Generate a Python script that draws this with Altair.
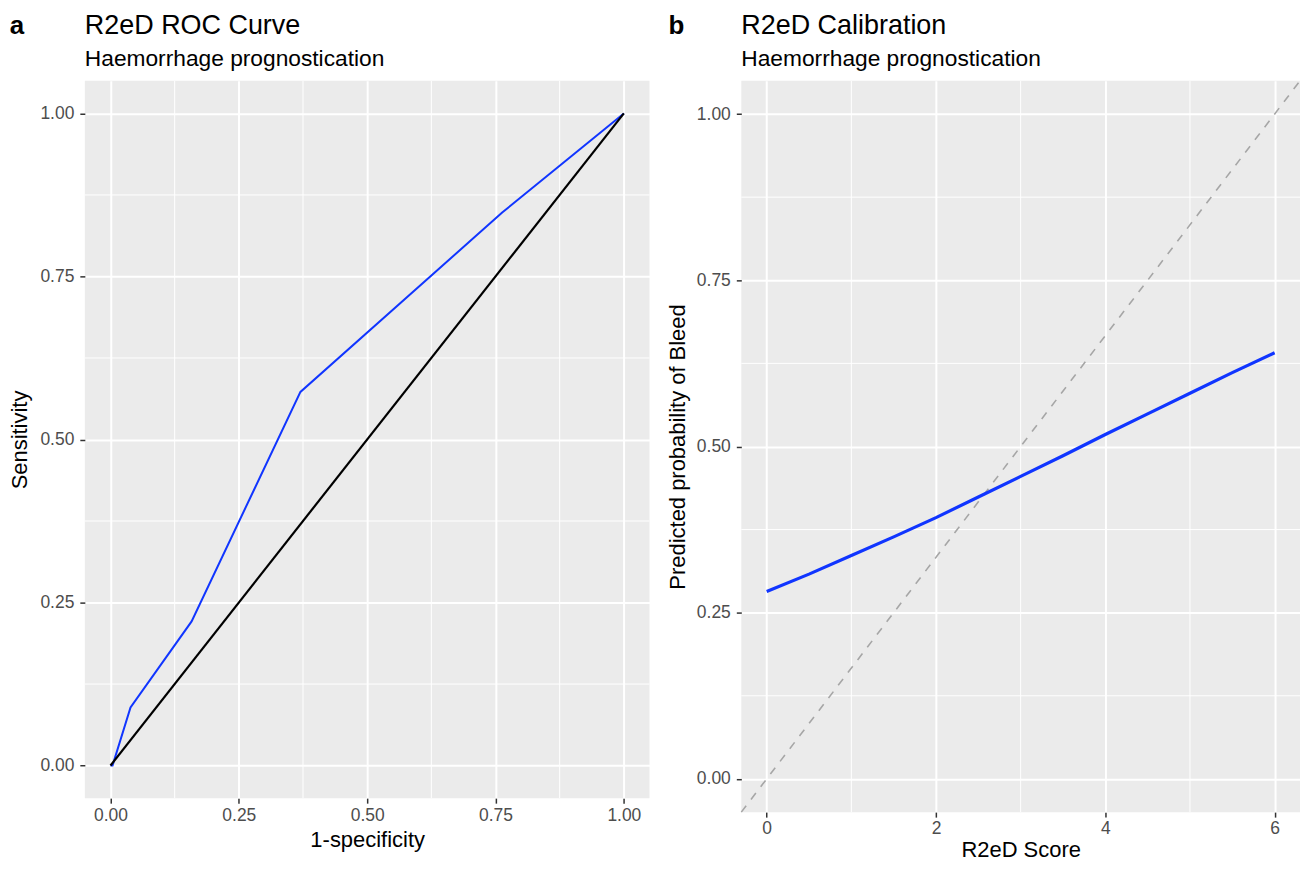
import altair as alt
import pandas as pd

# ---- data ----
roc_fpr = [0.0, 0.004, 0.039, 0.158, 0.370, 0.763, 1.0]
roc_tpr = [0.0, 0.0, 0.089, 0.221, 0.573, 0.848, 1.0]
diag_x = [0.0, 1.0]
diag_y = [0.0, 1.0]

cal_score = [0, 0.5, 1, 1.5, 2, 2.5, 3, 3.5, 4, 4.5, 5, 5.5, 6]
cal_prob = [0.282, 0.308, 0.336, 0.364, 0.393, 0.424, 0.455, 0.486, 0.518, 0.549, 0.580, 0.611, 0.641]
ref_x = [-0.3, 6.3]
ref_y = [-0.05, 1.05]

prob_ticks = [0.0, 0.25, 0.5, 0.75, 1.0]
prob_minor = [0.125, 0.375, 0.625, 0.875]
score_ticks = [0, 2, 4, 6]
score_minor = [1, 3, 5]

FONT = "Liberation Sans"
BLUE = "#1035FF"

roc_df = pd.DataFrame({"fpr": roc_fpr, "tpr": roc_tpr})
diag_df = pd.DataFrame({"fpr": diag_x, "tpr": diag_y})
cal_df = pd.DataFrame({"score": cal_score, "prob": cal_prob})
ref_df = pd.DataFrame({"score": ref_x, "prob": ref_y})


def axis(values, fmt, title, **kw):
    return alt.Axis(values=values, format=fmt, title=title, domain=False,
                    grid=True, gridColor="white", gridWidth=2,
                    ticks=True, tickColor="#333333", tickWidth=1.5, tickSize=5,
                    labelColor="#4D4D4D", labelFont=FONT, labelFontSize=17.5,
                    titleFont=FONT, titleFontSize=22, titleFontWeight="normal",
                    titleColor="black", **kw)


def label(txt, dx):
    return alt.Chart(pd.DataFrame({"t": [txt]})).mark_text(
        font=FONT, fontSize=26, fontWeight="bold", color="black",
        align="center", baseline="top").encode(
        text="t:N", x=alt.value(dx), y=alt.value(-68))


def title(text):
    return alt.TitleParams(text, subtitle="Haemorrhage prognostication",
                           anchor="start", frame="group", font=FONT,
                           fontSize=27, fontWeight="normal", color="black",
                           subtitleFont=FONT, subtitleFontSize=22.8,
                           subtitleColor="black", subtitlePadding=8,
                           offset=-58.5)


# ---- left panel: ROC ----
xs_l = alt.Scale(domain=[-0.05, 1.05], nice=False, zero=False)
ys_l = alt.Scale(domain=[-0.05, 1.05], nice=False, zero=False)
xa_l = axis(prob_ticks, ".2f", "1-specificity", labelPadding=3, titlePadding=6)
ya_l = axis(prob_ticks, ".2f", "Sensitivity", labelPadding=6, titlePadding=8)

minor_x_l = alt.Chart(pd.DataFrame({"fpr": prob_minor})).mark_rule(
    color="white", strokeWidth=1).encode(x=alt.X("fpr:Q", scale=xs_l, axis=xa_l))
minor_y_l = alt.Chart(pd.DataFrame({"tpr": prob_minor})).mark_rule(
    color="white", strokeWidth=1).encode(y=alt.Y("tpr:Q", scale=ys_l, axis=ya_l))
roc_line = alt.Chart(roc_df).mark_line(color=BLUE, strokeWidth=2).encode(
    x=alt.X("fpr:Q", scale=xs_l, axis=xa_l),
    y=alt.Y("tpr:Q", scale=ys_l, axis=ya_l),
    order="fpr:Q")
diag_line = alt.Chart(diag_df).mark_line(color="black", strokeWidth=2.2).encode(
    x=alt.X("fpr:Q", scale=xs_l, axis=xa_l),
    y=alt.Y("tpr:Q", scale=ys_l, axis=ya_l))

left = alt.layer(
    minor_x_l, minor_y_l, roc_line, diag_line, label("a", -68)
).properties(width=566, height=719, title=title("R2eD ROC Curve"))

# ---- right panel: calibration ----
xs_r = alt.Scale(domain=[-0.3, 6.3], nice=False, zero=False)
ys_r = alt.Scale(domain=[-0.05, 1.05], nice=False, zero=False)
xa_r = axis(score_ticks, "d", "R2eD Score", labelPadding=2, titlePadding=3)
ya_r = axis(prob_ticks, ".2f", "Predicted probability of Bleed", labelPadding=6, titlePadding=7)

minor_x_r = alt.Chart(pd.DataFrame({"score": score_minor})).mark_rule(
    color="white", strokeWidth=1).encode(x=alt.X("score:Q", scale=xs_r, axis=xa_r))
minor_y_r = alt.Chart(pd.DataFrame({"prob": prob_minor})).mark_rule(
    color="white", strokeWidth=1).encode(y=alt.Y("prob:Q", scale=ys_r, axis=ya_r))
ref_line = alt.Chart(ref_df).mark_line(color="#A6A6A6", strokeWidth=1.6,
                                       strokeDash=[8, 8]).encode(
    x=alt.X("score:Q", scale=xs_r, axis=xa_r),
    y=alt.Y("prob:Q", scale=ys_r, axis=ya_r))
cal_line = alt.Chart(cal_df).mark_line(color=BLUE, strokeWidth=3.2).encode(
    x=alt.X("score:Q", scale=xs_r, axis=xa_r),
    y=alt.Y("prob:Q", scale=ys_r, axis=ya_r))

right = alt.layer(
    minor_x_r, minor_y_r, ref_line, cal_line, label("b", -65)
).properties(width=560, height=733, title=title("R2eD Calibration"))

chart = alt.hconcat(left, right, spacing=15).properties(
    padding={"left": 0, "top": 2, "right": 0, "bottom": 0}
).configure(background="white").configure_view(fill="#EBEBEB", stroke=None)

chart.save("out.html", embed_options={"renderer": "svg", "actions": False})
